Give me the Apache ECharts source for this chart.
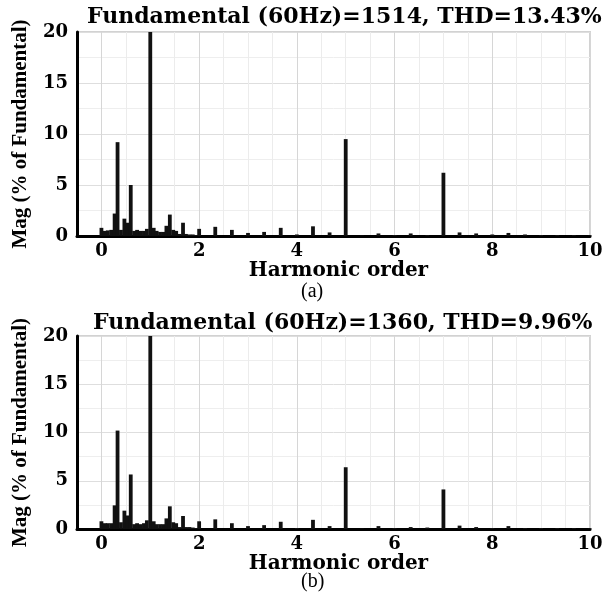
<!DOCTYPE html>
<html>
<head>
<meta charset="utf-8">
<script src="https://cdn.jsdelivr.net/npm/echarts@6/dist/echarts.min.js"></script>
<style>
  html, body { margin: 0; padding: 0; background: #fff; }
  #chart { width: 614px; height: 592px; }
</style>
</head>
<body>
<div id="chart"></div>
<script>
// harmonic order of each spectral line
const harmonics = [0, 0.07, 0.13, 0.2, 0.27, 0.33, 0.4, 0.47, 0.53, 0.6,
  0.67, 0.73, 0.8, 0.87, 0.93, 1, 1.07, 1.13, 1.2, 1.27,
  1.33, 1.4, 1.47, 1.53, 1.6, 1.67, 1.73, 1.8, 1.87, 1.93,
  2, 2.33, 2.67, 3, 3.33, 3.67, 4, 4.33, 4.67, 5,
  5.33, 5.67, 6, 6.33, 6.67, 7, 7.33, 7.67, 8, 8.33,
  8.67, 9, 9.33, 9.67, 10];

// (a) magnitudes, % of fundamental (fundamental clipped at 20)
const magA = [0.8, 0.5, 0.55, 0.6, 2.2, 9.2, 0.6, 1.7, 1.3, 5.0,
  0.5, 0.6, 0.5, 0.5, 0.7, 20, 0.8, 0.5, 0.4, 0.4,
  1.0, 2.1, 0.6, 0.5, 0.2, 1.3, 0.2, 0.15, 0.15, 0.1,
  0.7, 0.9, 0.6, 0.3, 0.4, 0.8, 0.15, 0.95, 0.35, 9.5,
  0.05, 0.25, 0.1, 0.25, 0.1, 6.2, 0.35, 0.25, 0.15, 0.3,
  0.15, 0.1, 0.1, 0.1, 0.05];

// (b) magnitudes
const magB = [0.8, 0.6, 0.6, 0.6, 2.45, 10.2, 0.7, 1.9, 1.4, 5.65,
  0.5, 0.6, 0.5, 0.6, 0.9, 20, 0.8, 0.5, 0.5, 0.5,
  1.1, 2.35, 0.7, 0.6, 0.2, 1.35, 0.2, 0.2, 0.15, 0.1,
  0.8, 1.0, 0.6, 0.3, 0.4, 0.75, 0.1, 0.95, 0.3, 6.4,
  0.05, 0.3, 0.1, 0.2, 0.15, 4.1, 0.35, 0.2, 0.1, 0.3,
  0.1, 0.1, 0.1, 0.1, 0.05];

const xTicks = [0, 2, 4, 6, 8, 10];
const yTicks = [0, 5, 10, 15, 20];
const titleA = 'Fundamental (60Hz)=1514, THD=13.43%';
const titleB = 'Fundamental (60Hz)=1360, THD=9.96%';

const boldFont = 'DejaVu Serif';
const timesFont = 'Liberation Serif';

function xAxisFor(gridIndex) {
  return {
    type: 'value',
    gridIndex: gridIndex,
    min: -0.5,
    max: 10,
    interval: 0.5,
    name: 'Harmonic order',
    nameLocation: 'middle',
    nameGap: 17,
    nameTextStyle: { fontFamily: boldFont, fontWeight: 'bold', fontSize: 20, color: '#000', padding: [0, 0, 0, 10] },
    axisLine: { onZero: false, lineStyle: { color: '#000', width: 3 } },
    axisTick: { show: false },
    axisLabel: {
      fontFamily: boldFont, fontWeight: 'bold', fontSize: 18, color: '#000', margin: 6,
      formatter: (v) => (xTicks.indexOf(v) >= 0 ? String(v) : '')
    },
    splitLine: {
      show: true,
      lineStyle: { color: ['#ececec', '#d6d6d6', '#ececec', '#ececec'], width: 1 }
    }
  };
}

function yAxisFor(gridIndex) {
  return {
    type: 'value',
    gridIndex: gridIndex,
    min: 0,
    max: 20,
    interval: 5,
    name: 'Mag (% of Fundamental)',
    nameLocation: 'middle',
    nameGap: 46,
    nameTextStyle: { fontFamily: timesFont, fontWeight: 'bold', fontSize: 21, color: '#000' },
    axisLine: { show: true, onZero: false, lineStyle: { color: '#000', width: 3 } },
    axisTick: { show: false },
    axisLabel: {
      fontFamily: boldFont, fontWeight: 'bold', fontSize: 18, color: '#000', margin: 9,
      formatter: (v) => (yTicks.indexOf(v) >= 0 ? String(v) : '')
    },
    splitLine: { show: true, lineStyle: { color: '#dedede' } },
    minorTick: { show: false, splitNumber: 2 },
    minorSplitLine: { show: true, lineStyle: { color: '#eeeeee' } }
  };
}

function barSeries(idx, mags) {
  return {
    type: 'bar',
    xAxisIndex: idx,
    yAxisIndex: idx,
    data: harmonics.map((h, i) => [h, mags[i]]),
    barWidth: 3.8,
    itemStyle: { color: '#111' },
    clip: true,
    silent: true
  };
}

const chart = echarts.init(document.getElementById('chart'), null, { renderer: 'canvas' });
chart.setOption({
  animation: false,
  backgroundColor: '#fff',
  title: [
    { text: titleA, left: 82, top: 1, textStyle: { fontFamily: boldFont, fontWeight: 'bold', fontSize: 22, color: '#000' } },
    { text: titleB, left: 88, top: 307, textStyle: { fontFamily: boldFont, fontWeight: 'bold', fontSize: 22, color: '#000' } },
    { text: '(a)', left: 296, top: 277, textStyle: { fontFamily: timesFont, fontWeight: 'normal', fontSize: 20, color: '#000' } },
    { text: '(b)', left: 296, top: 567, textStyle: { fontFamily: timesFont, fontWeight: 'normal', fontSize: 20, color: '#000' } }
  ],
  grid: [
    { left: 77, top: 32, width: 513, height: 204, show: true, borderColor: '#d2d2d2', borderWidth: 2, backgroundColor: '#fff' },
    { left: 77, top: 336, width: 513, height: 193, show: true, borderColor: '#d2d2d2', borderWidth: 2, backgroundColor: '#fff' }
  ],
  xAxis: [xAxisFor(0), xAxisFor(1)],
  yAxis: [yAxisFor(0), yAxisFor(1)],
  series: [barSeries(0, magA), barSeries(1, magB)]
});
</script>
</body>
</html>
